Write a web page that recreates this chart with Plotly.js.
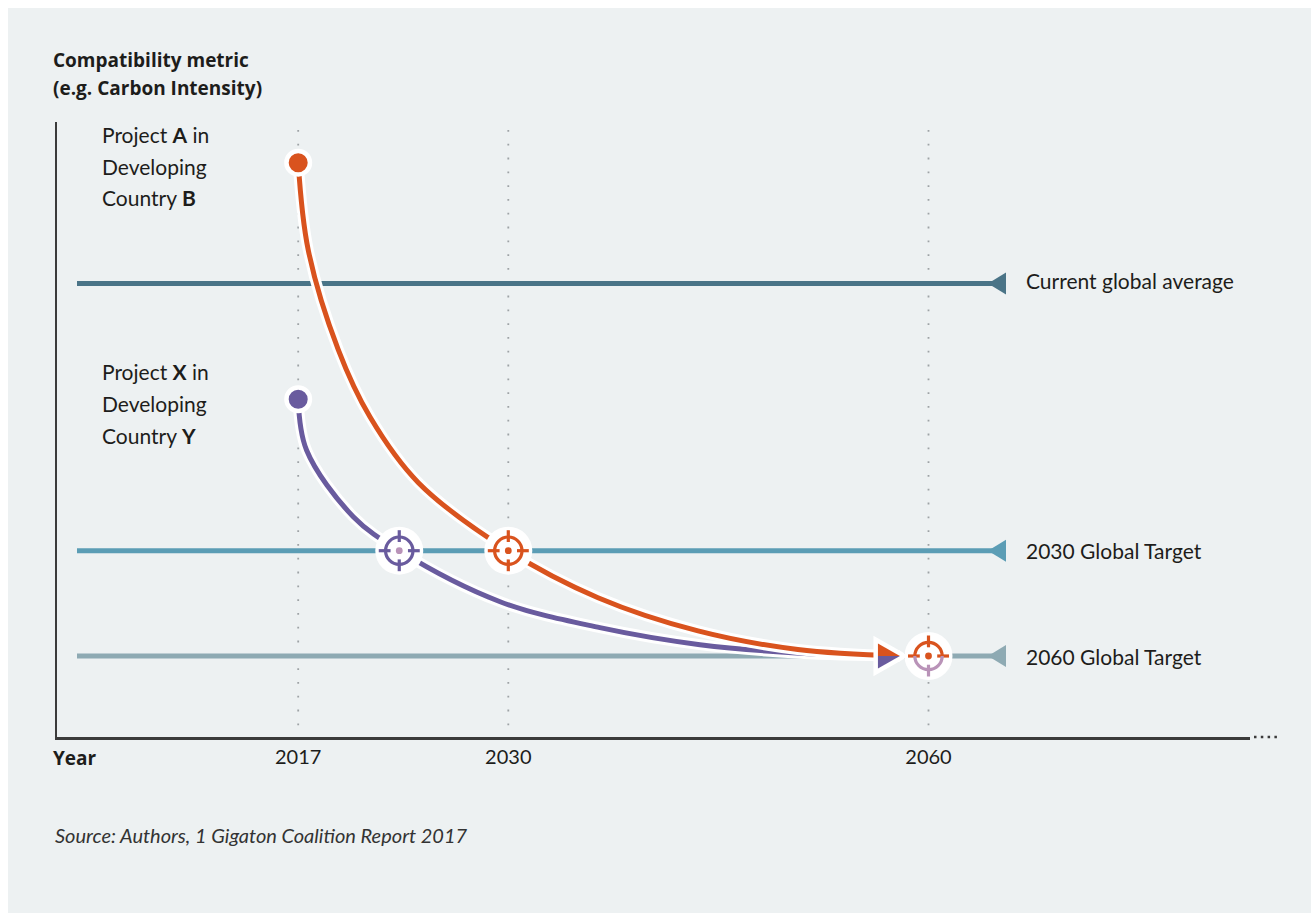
<!DOCTYPE html>
<html>
<head>
<meta charset="utf-8">
<script src="https://cdn.plot.ly/plotly-3.0.1.min.js"></script>
<style>html,body{margin:0;padding:0;background:#fff;}#chart{width:1311px;height:916px;}</style>
</head>
<body>
<div id="chart"></div>
<script>
// ---------- DATA (schematic time units: 2017 = 0, 2030 = 1, 2060 = 3) ----------
const yearLabels = ['2017', '2030', '2060'];
const yearPos = [0, 1, 3];

// reference levels of the compatibility metric (schematic units)
const refNames = ['Current global average', '2030 Global Target', '2060 Global Target'];
const refValues = [5.6, 2.3, 1.0];

// Project A in Developing Country B
const projAX = [0, 0.048, 0.191, 0.342, 0.572, 1.0, 1.427, 1.903, 2.378, 2.864];
const projAY = [7.09, 6.01, 4.78, 3.95, 3.14, 2.30, 1.72, 1.31, 1.08, 1.0];

// Project X in Developing Country Y
const projXX = [0, 0.040, 0.262, 0.481, 0.961, 1.436, 1.912, 2.388, 2.864];
const projXY = [4.17, 3.54, 2.72, 2.30, 1.67, 1.35, 1.14, 1.035, 1.0];
const projXTargetIdx = 3;   // point where X meets the 2030 target
const projATargetIdx = 5;   // point where A meets the 2030 target

// ---------- STYLE ----------
const W = 1311, H = 916;
const ML = 57, MR = 61, MT = 122, MB = 179;
const PW = W - ML - MR, PH = H - MT - MB;
const UNIT_X = 210.1, X0_PX = 298.2, UNIT_Y = 81;
const xr = [(ML - X0_PX) / UNIT_X, (W - MR - X0_PX) / UNIT_X];
const yr = [0, PH / UNIT_Y];
const px2x = p => (p - X0_PX) / UNIT_X;       // horizontal pixel -> schematic x
const px2y = p => (H - MB - p) / UNIT_Y;      // vertical pixel  -> metric
const pxPaperX = p => (p - ML) / PW;
const pxPaperY = p => (H - MB - p) / PH;

const FONT = 'Lato, "Open Sans", sans-serif';
const BFONT = '"Open Sans", Lato, sans-serif';
const TXT = '#1d1d1b';
const ORANGE = '#d9531e', PURPLE = '#695b9e', MAUVE = '#b993b8';
const refColors = ['#4a7487', '#5b9db5', '#8eaab3'];
const LINE_START = px2x(77), LINE_END = px2x(1006);

const traces = [];
// reference lines
refValues.forEach((v, i) => {
  traces.push({x: [LINE_START, LINE_END], y: [v, v], mode: 'lines', line: {color: refColors[i], width: 5}, hoverinfo: 'skip', showlegend: false});
});
// curves with white halo
function curve(xs, ys, color) {
  traces.push({x: xs, y: ys, mode: 'lines', line: {color: '#ffffff', width: 11, shape: 'spline', smoothing: 1}, hoverinfo: 'skip', showlegend: false});
  traces.push({x: xs, y: ys, mode: 'lines', line: {color: color, width: 5, shape: 'spline', smoothing: 1}, hoverinfo: 'skip', showlegend: false});
}
curve(projXX, projXY, PURPLE);
curve(projAX, projAY, ORANGE);
// start dots
traces.push({x: [projXX[0]], y: [projXY[0]], mode: 'markers', marker: {size: 23.5, color: PURPLE, line: {color: '#fff', width: 4.5}}, hoverinfo: 'skip', showlegend: false});
traces.push({x: [projAX[0]], y: [projAY[0]], mode: 'markers', marker: {size: 23.5, color: ORANGE, line: {color: '#fff', width: 4.5}}, hoverinfo: 'skip', showlegend: false});

// ---------- SHAPES ----------
const shapes = [];
// light grey panel
shapes.push({type: 'rect', xref: 'paper', yref: 'paper', x0: pxPaperX(8), x1: pxPaperX(W), y0: pxPaperY(913), y1: pxPaperY(8), fillcolor: '#edf1f2', line: {width: 0}, layer: 'below'});
// dotted year guides
yearPos.forEach(p => {
  shapes.push({type: 'line', xref: 'x', yref: 'y', x0: p, x1: p, y0: px2y(130), y1: px2y(735), line: {color: '#9ea3a6', width: 1.8, dash: '1.8px,12px'}, layer: 'below'});
});
// axis continuation dots
shapes.push({type: 'line', xref: 'paper', yref: 'paper', x0: pxPaperX(1254), x1: pxPaperX(1279), y0: 0, y1: 0, line: {color: '#3b3b3b', width: 2.5, dash: '2.5px,4.3px'}});

function pix(xa, ya, extra) {
  return Object.assign({xref: 'x', yref: 'y', xsizemode: 'pixel', ysizemode: 'pixel', xanchor: xa, yanchor: ya, layer: 'above'}, extra);
}
// reference end triangles
refValues.forEach((v, i) => {
  shapes.push(pix(LINE_END, v, {type: 'path', path: 'M 0,11 L 0,-11 L -18,0 Z', fillcolor: refColors[i], line: {width: 0}}));
});
// arrow heads at curve ends
const aEnd = projAX.length - 1, xEnd = projXX.length - 1;
shapes.push(pix(projAX[aEnd], projAY[aEnd], {type: 'path', path: 'M 0,0 L -22,12.5 L -22,-12.5 Z', fillcolor: '#fff', line: {color: '#fff', width: 9}}));
shapes.push(pix(projAX[aEnd], projAY[aEnd], {type: 'path', path: 'M 0,0 L -22,0 L -22,12.5 Z', fillcolor: ORANGE, line: {width: 0}}));
shapes.push(pix(projXX[xEnd], projXY[xEnd], {type: 'path', path: 'M 0,0 L -22,0 L -22,-12.5 Z', fillcolor: PURPLE, line: {width: 0}}));

function target(xa, ya, cTop, cBot, cDot) {
  const R = 13.7, k = 0.5523 * R, t0 = 8.7, t1 = 20.5, lw = 3.2;
  shapes.push(pix(xa, ya, {type: 'circle', x0: -24, x1: 24, y0: -24, y1: 24, fillcolor: '#fff', line: {width: 0}}));
  shapes.push(pix(xa, ya, {type: 'line', x0: -t1, x1: -t0, y0: 0, y1: 0, line: {color: cTop, width: lw}}));
  shapes.push(pix(xa, ya, {type: 'line', x0: t0, x1: t1, y0: 0, y1: 0, line: {color: cTop, width: lw}}));
  shapes.push(pix(xa, ya, {type: 'line', x0: 0, x1: 0, y0: t0, y1: t1, line: {color: cTop, width: lw}}));
  shapes.push(pix(xa, ya, {type: 'line', x0: 0, x1: 0, y0: -t0, y1: -t1, line: {color: cBot, width: lw}}));
  shapes.push(pix(xa, ya, {type: 'path', path: `M ${-R},0 C ${-R},${k} ${-k},${R} 0,${R} C ${k},${R} ${R},${k} ${R},0`, line: {color: cTop, width: lw}}));
  shapes.push(pix(xa, ya, {type: 'path', path: `M ${-R},0 C ${-R},${-k} ${-k},${-R} 0,${-R} C ${k},${-R} ${R},${-k} ${R},0`, line: {color: cBot, width: lw}}));
  shapes.push(pix(xa, ya, {type: 'circle', x0: -3.4, x1: 3.4, y0: -3.4, y1: 3.4, fillcolor: cDot, line: {width: 0}}));
}
target(projXX[projXTargetIdx], projXY[projXTargetIdx], PURPLE, PURPLE, MAUVE);
target(projAX[projATargetIdx], projAY[projATargetIdx], ORANGE, ORANGE, ORANGE);
target(yearPos[2], refValues[2], ORANGE, MAUVE, ORANGE);

// ---------- ANNOTATIONS ----------
const ann = [];
function txt(text, xp, yp, size, family, color) {
  ann.push({xref: 'paper', yref: 'paper', x: pxPaperX(xp), y: pxPaperY(yp), xanchor: 'left', yanchor: 'middle', text: text, showarrow: false, font: {family: family || FONT, size: size, color: color || TXT}});
}
txt('<b>Compatibility metric</b>', 51, 60, 19, BFONT);
txt('<b>(e.g. Carbon Intensity)</b>', 51, 88, 19, BFONT);
txt('Project <b>A</b> in', 100, 134, 21);
txt('Developing', 100, 166, 21);
txt('Country <b>B</b>', 100, 198, 21);
txt('Project <b>X</b> in', 100, 371, 21);
txt('Developing', 100, 403, 21);
txt('Country <b>Y</b>', 100, 435, 21);
refNames.forEach((n, i) => {
  ann.push({xref: 'x', yref: 'y', x: px2x(1024), y: refValues[i], xanchor: 'left', yanchor: 'middle', yshift: i === 0 ? 3 : 0, text: n, showarrow: false, font: {family: FONT, size: 21, color: TXT}});
});
txt('<b>Year</b>', 51, 758, 19, BFONT);
txt('<i>Source: Authors, 1 Gigaton Coalition Report 2017</i>', 53, 835, 20, FONT, '#333333');

const layout = {
  width: W, height: H,
  margin: {l: ML, r: MR, t: MT, b: MB, pad: 0},
  paper_bgcolor: '#ffffff', plot_bgcolor: 'rgba(0,0,0,0)',
  showlegend: false,
  xaxis: {range: xr, showgrid: false, zeroline: false, showline: true, linecolor: '#3b3b3b', linewidth: 2.5,
          tickvals: yearPos, ticktext: yearLabels, ticks: '', tickfont: {family: FONT, size: 20, color: TXT}, fixedrange: true},
  yaxis: {range: yr, showgrid: false, zeroline: false, showline: true, linecolor: '#3b3b3b', linewidth: 2.5,
          showticklabels: false, ticks: '', fixedrange: true},
  shapes: shapes,
  annotations: ann
};
Plotly.newPlot('chart', traces, layout, {displayModeBar: false, staticPlot: true});
</script>
</body>
</html>
